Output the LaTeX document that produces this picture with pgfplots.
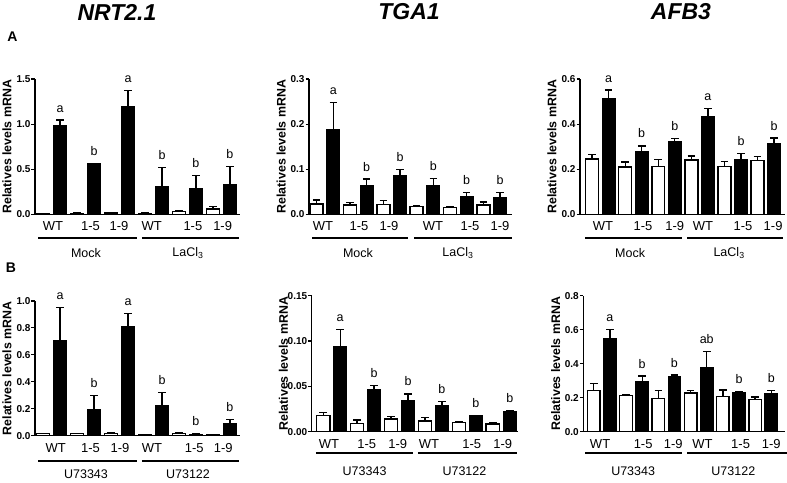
\documentclass[border=0pt]{standalone}
\usepackage{fontspec}
\setmainfont{Liberation Sans}
\usepackage{pgfplots}
\pgfplotsset{compat=1.18}
\pgfplotsset{
 panel/.style={
  scale only axis, clip=false, anchor=south west,
  axis x line*=bottom, axis y line*=left,
  axis line style={line width=1.3pt},
  ymin=0,
  xtick style={draw=none},
  ytick style={black, line width=1.1pt},
  tick align=outside, major tick length=3.5pt,
  minor tick num=0,
  /pgf/number format/assume math mode=true,
  /pgf/number format/fixed, /pgf/number format/zerofill,
  yticklabel style={font=\bfseries\fontsize{10}{10}\selectfont, inner xsep=0.8pt},
  xticklabel style={font=\fontsize{13}{13}\selectfont, yshift=-0.5pt},
  xticklabels={WT,1-5,1-9,WT,1-5,1-9},
  ylabel={Relatives levels mRNA},
  ylabel style={font=\bfseries\fontsize{12.4}{12.4}\selectfont, at={(axis description cs:-0.137,0.5)}, anchor=center},
  bar width=0.78,
 },
 wbar/.style={ybar, bar shift=0pt, fill=white, draw=black, line width=1.4pt,
  error bars/.cd, y dir=plus, y explicit,
  error bar style={line width=1.3pt, black},
  error mark options={rotate=90, mark size=3.8pt, line width=1.3pt, black}},
 bbar/.style={ybar, bar shift=0pt, fill=black, draw=black, line width=1pt,
  error bars/.cd, y dir=plus, y explicit,
  error bar style={line width=1.3pt, black},
  error mark options={rotate=90, mark size=3.8pt, line width=1.3pt, black}},
}
\tikzset{lett/.style={font=\fontsize{12.5}{12.5}\selectfont, anchor=base, inner sep=0pt},
 grp/.style={font=\fontsize{12.5}{12.5}\selectfont, anchor=center, inner sep=0pt}}
\newcommand\lab[3]{\node[lett] at ([yshift=8pt]axis cs:#1,#2) {#3};}
\newcommand\grline[3]{\draw[line width=1.9pt] ([yshift=-#3pt]axis cs:#1,0) -- ([yshift=-#3pt]axis cs:#2,0);}
\newcommand\grlab[3]{\node[grp] at ([yshift=-#2pt]axis cs:#1,0) {#3};}
\begin{document}
\begin{tikzpicture}[x=1pt,y=1pt]
\useasboundingbox (0,0) rectangle (787,482);
% titles
\node[font=\bfseries\itshape\fontsize{23}{23}\selectfont] at (117,470) {NRT2.1};
\node[font=\bfseries\itshape\fontsize{23}{23}\selectfont] at (409,470) {TGA1};
\node[font=\bfseries\itshape\fontsize{23}{23}\selectfont] at (681,470) {AFB3};
\node[font=\bfseries\fontsize{14}{14}\selectfont] at (12.5,445) {A};
\node[font=\bfseries\fontsize{14}{14}\selectfont] at (11,214) {B};

% ---------------- A1 NRT2.1
\begin{axis}[panel, at={(35pt,267.7pt)}, width=205pt, height=135.3pt,
  xmin=-0.47, xmax=11.59, ymax=1.5, ytick={0,0.5,1,1.5},
  /pgf/number format/precision=1,
  xtick={0.59,2.8,4.47,6.39,8.82,10.57}]
\addplot[wbar] table[x=x,y=y,y error=e,row sep=\\]{x y e\\ 0 0.005 0.002\\ 2 0.012 0.003\\ 4 0.015 0.004\\ 6 0.01 0.003\\ 8 0.03 0.008\\ 10 0.06 0.03\\};
\addplot[bbar] table[x=x,y=y,y error=e,row sep=\\]{x y e\\ 1 0.98 0.065\\ 3 0.56 0.005\\ 5 1.19 0.18\\ 7 0.31 0.21\\ 9 0.29 0.14\\ 11 0.33 0.20\\};
\lab{1}{1.045}{a}\lab{3}{0.565}{b}\lab{5}{1.37}{a}\lab{7}{0.52}{b}\lab{9}{0.43}{b}\lab{11}{0.53}{b}
\grline{-0.29}{5.53}{24}\grline{5.82}{11.53}{24}
\grlab{2.53}{39}{Mock}\grlab{8.53}{39}{LaCl\textsubscript{3}}
\end{axis}

% ---------------- A2 TGA1
\begin{axis}[panel, at={(309pt,267.7pt)}, width=203pt, height=135.3pt,
  xmin=-0.46, xmax=11.72, ymax=0.3, ytick={0,0.1,0.2,0.3},
  /pgf/number format/precision=1,
  xtick={0.38,2.54,4.34,6.98,9.2,11.0}]
\addplot[wbar] table[x=x,y=y,y error=e,row sep=\\]{x y e\\ 0 0.023 0.009\\ 2 0.021 0.005\\ 4 0.022 0.008\\ 6 0.017 0.003\\ 8 0.0155 0.0025\\ 10 0.021 0.006\\};
\addplot[bbar] table[x=x,y=y,y error=e,row sep=\\]{x y e\\ 1 0.189 0.059\\ 3 0.0636 0.0144\\ 5 0.085 0.014\\ 7 0.063 0.016\\ 9 0.039 0.01\\ 11 0.037 0.011\\};
\lab{1}{0.248}{a}\lab{3}{0.0776}{b}\lab{5}{0.099}{b}\lab{7}{0.079}{b}\lab{9}{0.049}{b}\lab{11}{0.048}{b}
\grline{-0.28}{5.48}{24}\grline{5.84}{11.72}{24}
\grlab{2.48}{39}{Mock}\grlab{8.48}{39}{LaCl\textsubscript{3}}
\end{axis}

% ---------------- A3 AFB3
\begin{axis}[panel, at={(580pt,267.7pt)}, width=205pt, height=135.3pt,
  xmin=-0.73, xmax=11.66, ymax=0.6, ytick={0,0.2,0.4,0.6},
  /pgf/number format/precision=1,
  xtick={0.66,3.08,5.0,6.7,9.12,10.94}]
\addplot[wbar] table[x=x,y=y,y error=e,row sep=\\]{x y e\\ 0 0.245 0.019\\ 2 0.21 0.022\\ 4 0.211 0.033\\ 6 0.241 0.017\\ 8 0.211 0.022\\ 10 0.239 0.017\\};
\addplot[bbar] table[x=x,y=y,y error=e,row sep=\\]{x y e\\ 1 0.513 0.038\\ 3 0.279 0.024\\ 5 0.325 0.01\\ 7 0.433 0.037\\ 9 0.244 0.025\\ 11 0.316 0.022\\};
\lab{1}{0.551}{a}\lab{3}{0.303}{b}\lab{5}{0.335}{b}\lab{7}{0.47}{a}\lab{9}{0.269}{b}\lab{11}{0.338}{b}
\grline{-0.42}{5.44}{24}\grline{5.74}{11.54}{24}
\grlab{2.3}{39}{Mock}\grlab{8.28}{39}{LaCl\textsubscript{3}}
\end{axis}

% ---------------- B1 NRT2.1
\begin{axis}[panel, at={(35pt,46.3pt)}, width=205pt, height=134.7pt,
  xmin=-0.47, xmax=11.59, ymax=1.0, ytick={0,0.2,0.4,0.6,0.8,1.0},
  /pgf/number format/precision=1,
  xtick={0.75,2.8,4.53,6.41,8.9,10.6}]
\addplot[wbar] table[x=x,y=y,y error=e,row sep=\\]{x y e\\ 0 0.015 0.003\\ 2 0.015 0.003\\ 4 0.015 0.004\\ 6 0.005 0.002\\ 8 0.015 0.004\\ 10 0.008 0.002\\};
\addplot[bbar] table[x=x,y=y,y error=e,row sep=\\]{x y e\\ 1 0.705 0.245\\ 3 0.198 0.102\\ 5 0.814 0.094\\ 7 0.225 0.097\\ 9 0.012 0.003\\ 11 0.087 0.032\\};
\lab{1}{0.95}{a}\lab{3}{0.30}{b}\lab{5}{0.908}{a}\lab{7}{0.322}{b}\lab{9}{0.015}{b}\lab{11}{0.119}{b}
\grline{-0.29}{5.53}{25}\grline{5.82}{11.53}{25}
\grlab{2.53}{38.5}{U73343}\grlab{8.53}{38.5}{U73122}
\end{axis}

% ---------------- B2 TGA1
\begin{axis}[panel, at={(311.7pt,50.3pt)}, width=206pt, height=136pt,
  xmin=-0.68, xmax=11.47, ymax=0.15, ytick={0,0.05,0.1,0.15},
  /pgf/number format/precision=2,
  xtick={0.34,2.57,4.4,6.23,8.76,10.59}]
\addplot[wbar] table[x=x,y=y,y error=e,row sep=\\]{x y e\\ 0 0.0178 0.0033\\ 2 0.0093 0.0037\\ 4 0.0138 0.0029\\ 6 0.012 0.0039\\ 8 0.0104 0.0006\\ 10 0.0085 0.001\\};
\addplot[bbar] table[x=x,y=y,y error=e,row sep=\\]{x y e\\ 1 0.0937 0.019\\ 3 0.047 0.0038\\ 5 0.0342 0.0074\\ 7 0.0284 0.0046\\ 9 0.0177 0.0005\\ 11 0.0228 0.0007\\};
\lab{1}{0.1127}{a}\lab{3}{0.0508}{b}\lab{5}{0.0416}{b}\lab{7}{0.033}{b}\lab{9}{0.0182}{b}\lab{11}{0.0235}{b}
\grline{-0.43}{5.28}{21}\grline{5.58}{11.41}{21}
\grlab{2.44}{39}{U73343}\grlab{8.33}{39}{U73122}
\end{axis}

% ---------------- B3 AFB3
\begin{axis}[panel, at={(583.3pt,50.3pt)}, width=202pt, height=136pt,
  xmin=-0.65, xmax=11.87, ymax=0.8, ytick={0,0.2,0.4,0.6,0.8},
  /pgf/number format/precision=1,
  xtick={0.39,3.06,4.93,6.73,9.1,11.0}]
\addplot[wbar] table[x=x,y=y,y error=e,row sep=\\]{x y e\\ 0 0.241 0.041\\ 2 0.212 0.006\\ 4 0.196 0.045\\ 6 0.227 0.014\\ 8 0.206 0.039\\ 10 0.188 0.016\\};
\addplot[bbar] table[x=x,y=y,y error=e,row sep=\\]{x y e\\ 1 0.549 0.053\\ 3 0.294 0.033\\ 5 0.327 0.006\\ 7 0.378 0.092\\ 9 0.229 0.006\\ 11 0.225 0.016\\};
\lab{1}{0.602}{a}\lab{3}{0.327}{b}\lab{5}{0.333}{b}\lab{7}{0.47}{ab}\lab{9}{0.235}{b}\lab{11}{0.241}{b}
\grline{-0.54}{5.49}{21}\grline{5.8}{11.95}{21}
\grlab{2.44}{39}{U73343}\grlab{8.65}{39}{U73122}
\end{axis}
\end{tikzpicture}
\end{document}
